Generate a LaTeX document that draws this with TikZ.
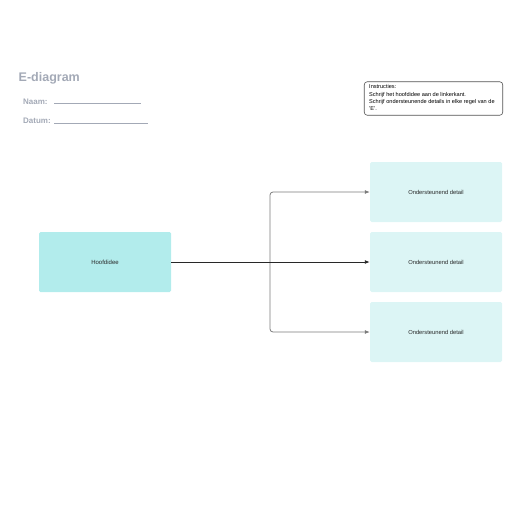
\documentclass[tikz,border=0pt]{standalone}
\usepackage{fontspec}
\setmainfont{Liberation Sans}
\usetikzlibrary{arrows.meta}

\definecolor{titlegray}{HTML}{A3A9B6}
\definecolor{mainfill}{HTML}{B2ECEC}
\definecolor{detailfill}{HTML}{DCF5F5}
\definecolor{textdark}{HTML}{282828}
\definecolor{branchgray}{HTML}{7A7A7A}

\tikzset{
	mainbox/.style={fill=mainfill, rounded corners=1.5pt, minimum width=132pt, minimum height=60pt, inner sep=0pt, font=\fontsize{6}{7}\selectfont, text=textdark},
	detailbox/.style={fill=detailfill, rounded corners=1.5pt, minimum width=132pt, minimum height=60pt, inner sep=0pt, font=\fontsize{5.8}{7}\selectfont, text=textdark},
	field/.style={anchor=west, inner sep=0pt, font=\fontsize{8}{9}\selectfont\bfseries, text=titlegray},
	branch/.style={draw=branchgray, line width=0.8pt, rounded corners=3pt, -{Latex[length=5pt,width=4pt]}},
}

\begin{document}
\begin{tikzpicture}[x=1pt, y=-1pt]
		
		\useasboundingbox (0,0) rectangle (516,516);
		
		\node[anchor=west, inner sep=0pt, font=\fontsize{12.5}{14}\selectfont\bfseries, text=titlegray] (title) at (18.5,78) {E-diagram};
		\node[field] (naam) at (23,101.5) {Naam:};
		\node[field] (datum) at (23,121) {Datum:};
		\draw[titlegray, line width=0.6pt] (54,103.5) -- (141,103.5);
		\draw[titlegray, line width=0.6pt] (54,123) -- (148,123);
		
		\node[draw=textdark!80, line width=0.6pt, fill=white, rounded corners=3pt, minimum width=138.5pt, minimum height=33.5pt, inner sep=0pt] (instr) at (433.5,98.5) {};
		\node[anchor=north west, inner sep=0pt, align=left, font=\fontsize{5.6}{7.3}\selectfont, text=black] (instrtext) at (369,84.6) {Instructies:\\Schrijf het hoofdidee aan de linkerkant.\\Schrijf ondersteunende details in elke regel van de\\'E'.};
		
		\node[mainbox] (hoofd) at (105,262) {Hoofdidee};
		\node[detailbox] (det1) at (436,192) {Ondersteunend detail};
		\node[detailbox] (det2) at (436,262) {Ondersteunend detail};
		\node[detailbox] (det3) at (436,332) {Ondersteunend detail};
		
		\coordinate (fork) at (270,262);
		\draw[branch] (fork) |- (det1.west);
		\draw[branch] (fork) |- (det3.west);
		\draw[textdark, line width=0.9pt, -{Latex[length=5pt,width=4pt]}] (hoofd.east) -- (det2.west);
		
	\end{tikzpicture}
\end{document}
